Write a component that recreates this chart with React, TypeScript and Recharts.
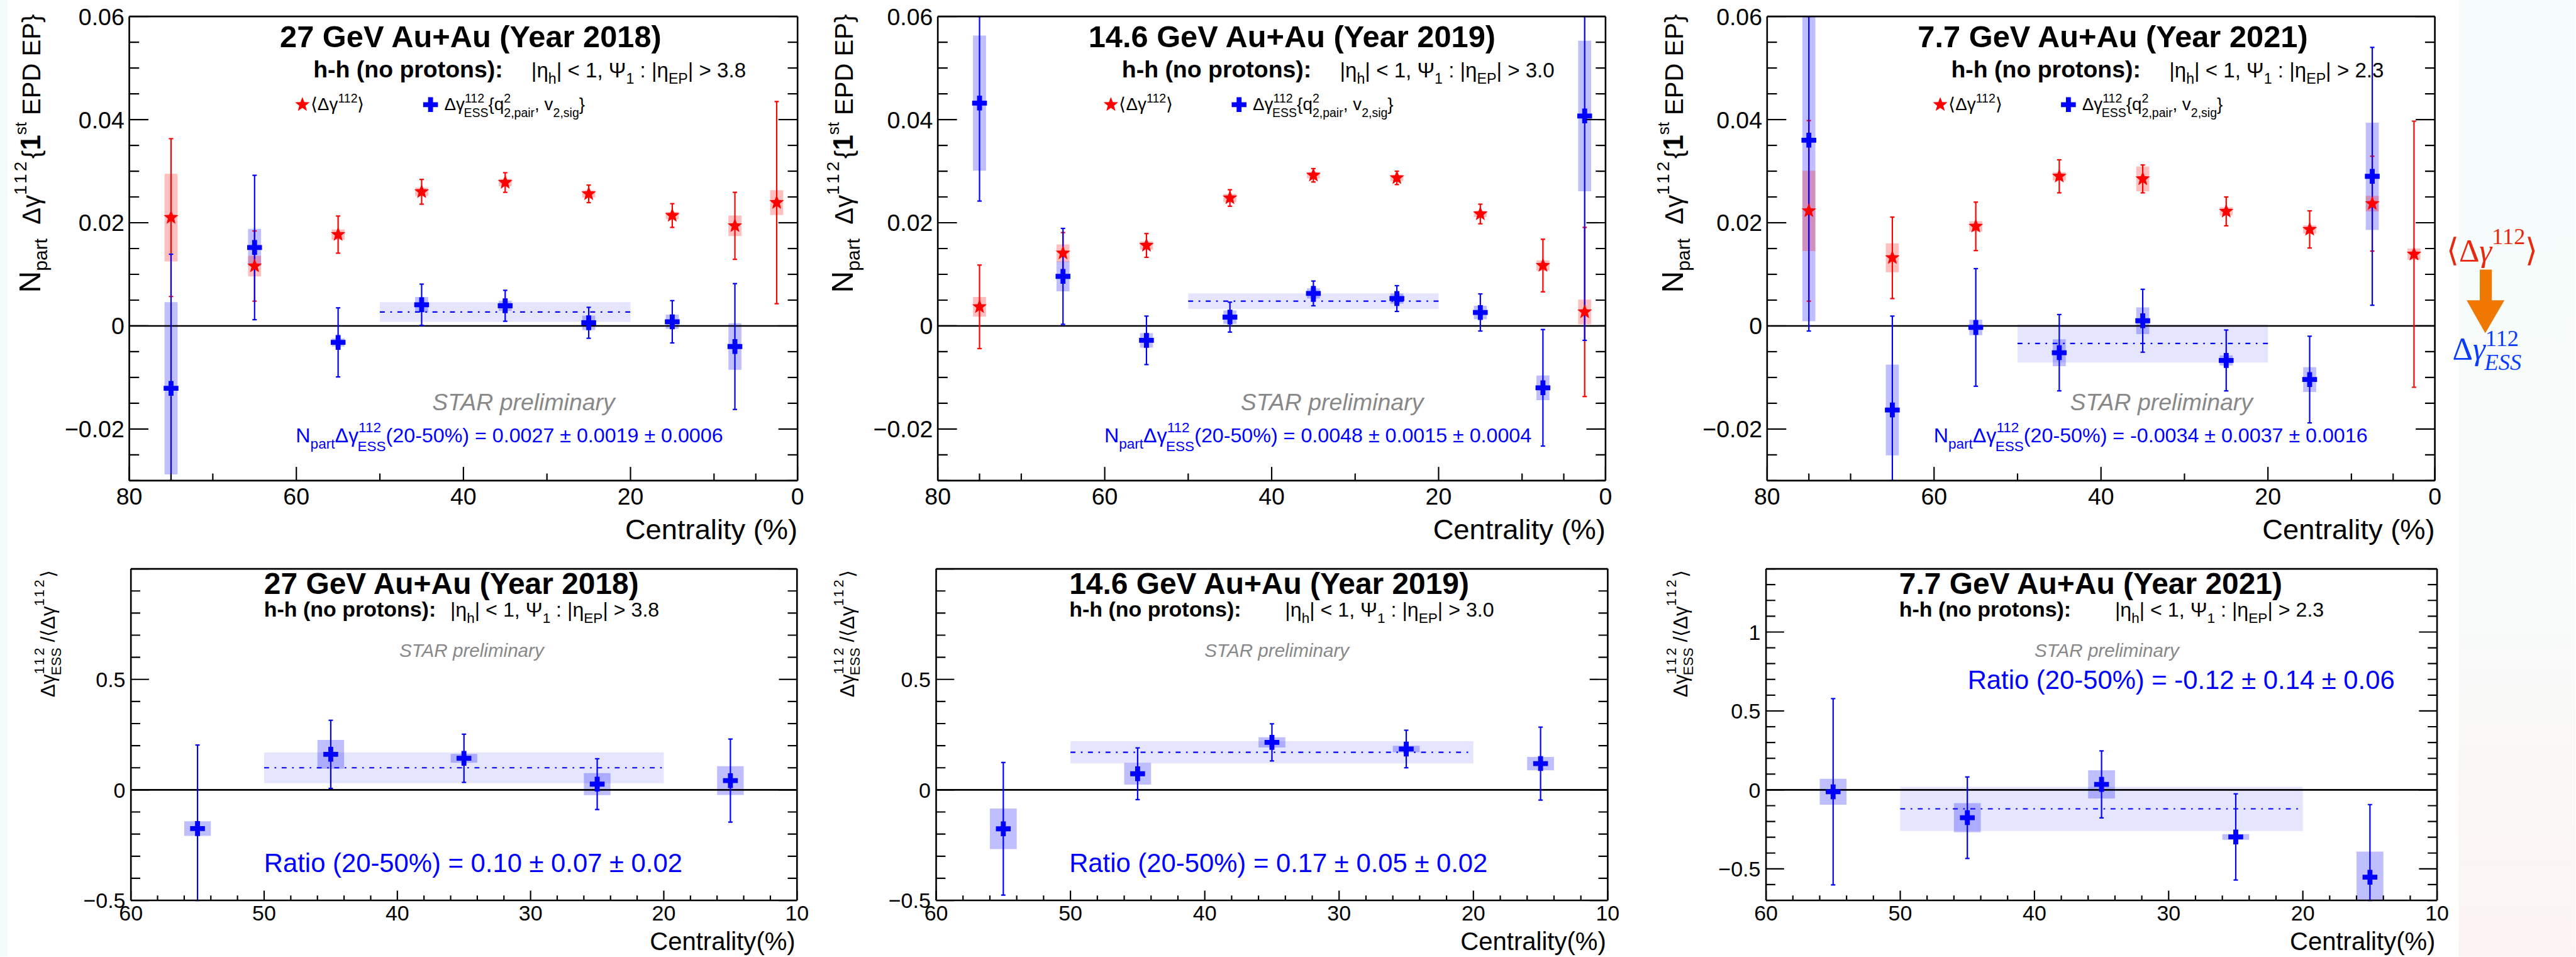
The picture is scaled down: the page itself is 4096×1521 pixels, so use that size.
import React from 'react';
import {
  ComposedChart,
  Scatter,
  ErrorBar,
  XAxis,
  YAxis,
  ReferenceArea,
  ReferenceLine,
} from 'recharts';

// everything is laid out in the reference's own pixels and scaled down once
const S = 0.871;
const W0 = 4702;
const H0 = 1746;
const FONT = '"Liberation Sans", Arial, Helvetica, sans-serif';
const SERIF = '"Liberation Serif", "Times New Roman", serif';
const RED = '#ff0000';
const BLUE = '#0000ff';

// ---- data ----
const centTop = [75, 65, 55, 45, 35, 25, 15, 7.5, 2.5];
const centRatio = [55, 45, 35, 25, 15];

// 27 GeV (2018)
const inc27 = [0.021, 0.0116, 0.0177, 0.026, 0.0278, 0.0256, 0.0214, 0.0194, 0.0239];
const incStat27 = [0.0153, 0.0068, 0.0036, 0.0024, 0.0019, 0.0017, 0.0023, 0.0065, 0.0196];
const incSys27 = [0.0085, 0.002, 0.001, 0.0008, 0.0007, 0.0007, 0.0007, 0.002, 0.0024];
const ess27 = [-0.0121, 0.0152, -0.0032, 0.0041, 0.0039, 0.0006, 0.0008, -0.004];
const essStat27 = [0.026, 0.014, 0.0067, 0.004, 0.003, 0.003, 0.0041, 0.0122];
const essSys27 = [0.0167, 0.0036, 0.0008, 0.0015, 0.001, 0.0014, 0.0014, 0.0045];

// 14.6 GeV (2019)
const inc146 = [0.0037, 0.0141, 0.0156, 0.0248, 0.0292, 0.0287, 0.0217, 0.0117, 0.0027];
const incStat146 = [0.0081, 0.004, 0.0023, 0.0016, 0.0013, 0.0013, 0.0019, 0.0051, 0.0164];
const incSys146 = [0.0019, 0.0017, 0.0008, 0.0008, 0.0006, 0.0006, 0.0006, 0.001, 0.0024];
const ess146 = [0.0432, 0.0096, -0.0028, 0.0017, 0.0063, 0.0053, 0.0026, -0.012, 0.0407];
const essStat146 = [0.019, 0.0093, 0.0047, 0.0029, 0.0024, 0.0025, 0.0036, 0.0113, 0.0435];
const essSys146 = [0.0131, 0.0029, 0.0014, 0.0013, 0.001, 0.001, 0.0013, 0.0024, 0.0146];

// 7.7 GeV (2021)
const inc77 = [0.0223, 0.0132, 0.0193, 0.029, 0.0285, 0.0222, 0.0187, 0.0237, 0.0139];
const incStat77 = [0.0175, 0.0079, 0.0047, 0.0032, 0.0027, 0.0028, 0.0036, 0.0092, 0.0258];
const incSys77 = [0.0078, 0.0028, 0.001, 0.0008, 0.0024, 0.0008, 0.0008, 0.0015, 0.0011];
const ess77 = [0.036, -0.0163, -0.0003, -0.0052, 0.001, -0.0067, -0.0104, 0.029];
const essStat77 = [0.037, 0.0182, 0.0114, 0.0074, 0.0061, 0.0059, 0.0084, 0.025];
const essSys77 = [0.0351, 0.0088, 0.0015, 0.0026, 0.0026, 0.001, 0.0024, 0.0104];

// ratio ESS / inclusive
const ratio27 = [-0.175, 0.161, 0.143, 0.026, 0.042];
const ratioStat27 = [0.378, 0.154, 0.109, 0.115, 0.188];
const ratioSys27 = [0.033, 0.065, 0.02, 0.05, 0.065];
const ratio146 = [-0.176, 0.073, 0.215, 0.185, 0.119];
const ratioStat146 = [0.3, 0.117, 0.084, 0.085, 0.165];
const ratioSys146 = [0.092, 0.049, 0.023, 0.015, 0.03];
const ratio77 = [-0.012, -0.176, 0.035, -0.298, -0.553];
const ratioStat77 = [0.59, 0.258, 0.212, 0.273, 0.46];
const ratioSys77 = [0.082, 0.092, 0.089, 0.018, 0.162];

// 20-50% averages: value, stat
const bandTop = [0.0027, 0.0048, -0.0034];
const bandTopErr = [0.0019, 0.0015, 0.0037];
const bandRatio = [0.1, 0.17, -0.12];
const bandRatioErr = [0.07, 0.05, 0.14];

const energies = ['27 GeV Au+Au (Year 2018)', '14.6 GeV Au+Au (Year 2019)', '7.7 GeV Au+Au (Year 2021)'];
const etaCuts = ['3.8', '3.0', '2.3'];
const nessText = ['0.0027 ± 0.0019 ± 0.0006', '0.0048 ± 0.0015 ± 0.0004', '-0.0034 ± 0.0037 ± 0.0016'];
const ratioText = ['0.10 ± 0.07 ± 0.02', '0.17 ± 0.05 ± 0.02', '-0.12 ± 0.14 ± 0.06'];

// tick values
const topXMajor = [80, 60, 40, 20, 0];
const topXMinor = [75, 70, 50, 30, 10, 5];
const topYMajor = [-0.02, 0, 0.02, 0.04, 0.06];
const botXMajor = [60, 50, 40, 30, 20, 10];
const botYMajor = [-0.5, 0, 0.5, 1];

type Row = { x: number; y: number; err: number; sys: number };
const rows = (c: number[], v: number[], e: number[], s: number[]): Row[] =>
  v.map((y, i) => ({ x: c[i], y, err: e[i], sys: s[i] }));

const minorTicks = (from: number, to: number, step: number, major: number[]) => {
  const out: number[] = [];
  const n = Math.round((to - from) / step);
  for (let i = 0; i <= n; i++) {
    const v = +(from + i * step).toFixed(4);
    if (!major.some((m) => Math.abs(m - v) < step / 10)) out.push(v);
  }
  return out;
};

// ---- markers ----
const starPath = (cx: number, cy: number, R = 14, r = 6) => {
  let d = '';
  for (let i = 0; i < 10; i++) {
    const a = ((-90 + i * 36) * Math.PI) / 180;
    const rr = i % 2 === 0 ? R : r;
    d += (i === 0 ? 'M' : 'L') + (cx + rr * Math.cos(a)).toFixed(2) + ',' + (cy + rr * Math.sin(a)).toFixed(2);
  }
  return d + 'Z';
};
const crossPath = (cx: number, cy: number, H = 13.5, T = 4.5) =>
  `M${cx - T},${cy - H}h${2 * T}v${H - T}h${H - T}v${2 * T}h${-(H - T)}v${H - T}h${-2 * T}v${-(H - T)}h${-(H - T)}v${-2 * T}h${H - T}Z`;

// ---- rich text with sub/superscripts ----
interface Seg { t: string; up?: number; k?: number; dx?: number; it?: boolean; b?: boolean; ls?: number }
const Rich = ({ x, y, fs, segs, anchor = 'start', fill = '#000', family = FONT, bold = false, italic = false }: any) => {
  let cur = 0;
  return (
    <text x={x} y={y} fontSize={fs} fill={fill} fontFamily={family} textAnchor={anchor}
      fontWeight={bold ? 'bold' : 'normal'} fontStyle={italic ? 'italic' : 'normal'} style={{ whiteSpace: 'pre' }}>
      {segs.map((s: Seg, i: number) => {
        const up = s.up ?? 0;
        const dy = (cur - up) * fs;
        cur = up;
        return (
          <tspan key={i} dy={dy} dx={s.dx ?? 0} fontSize={(s.k ?? 1) * fs}
            fontStyle={s.it ? 'italic' : undefined} fontWeight={s.b ? 'bold' : undefined} letterSpacing={s.ls}>
            {s.t}
          </tspan>
        );
      })}
    </text>
  );
};

const fmt = (v: number) => (v === 0 ? '0' : v < 0 ? '\u2212' + String(-v) : String(v));

interface PanelProps {
  L: number; R: number; T: number; B: number; boxTop: number; xh: number;
  xDomain: [number, number]; xMajor: number[]; xMinor: number[]; xLen: [number, number];
  yDomain: [number, number]; yMajor: number[]; yLabelled: number[]; yMinor: number[]; yLen: [number, number];
  fs: number; xOff: number; yOff: number; half: number;
  red?: Row[]; blue: Row[]; band: [number, number];
}

function Panel(p: PanelProps) {
  const LW = 160;
  const RW = 40;
  const top = p.T - p.boxTop;
  const w = LW + (p.R - p.L) + RW;
  const h = top + (p.B - p.T) + p.xh;
  const axisLine = { stroke: '#000', strokeWidth: 3 };
  const xt = [...p.xMajor, ...p.xMinor];
  const yt = [...p.yMajor, ...p.yMinor];
  const [y0, y1] = p.yDomain;
  // error bars stop at the frame, like the clipped ones in the reference
  const withBars = (rs: Row[]) =>
    rs.map((d) => ({ ...d, eb: [Math.min(d.err, d.y - y0), Math.min(d.err, y1 - d.y)] }));

  const xTick = (t: any) => {
    const v = t.payload.value;
    const maj = p.xMajor.includes(v);
    return (
      <g>
        <line x1={t.x} x2={t.x} y1={t.y} y2={t.y - (maj ? p.xLen[0] : p.xLen[1])} stroke="#000" strokeWidth={2.5} />
        {maj && (
          <text x={t.x} y={t.y + p.xOff} textAnchor="middle" fontSize={p.fs} fontFamily={FONT} fill="#000">{fmt(v)}</text>
        )}
      </g>
    );
  };
  const yTickL = (t: any) => {
    const v = t.payload.value;
    const maj = p.yMajor.includes(v);
    return (
      <g>
        <line x1={t.x} x2={t.x + (maj ? p.yLen[0] : p.yLen[1])} y1={t.y} y2={t.y} stroke="#000" strokeWidth={2.5} />
        {p.yLabelled.includes(v) && (
          <text x={t.x - p.yOff} y={t.y + p.fs * 0.36} textAnchor="end" fontSize={p.fs} fontFamily={FONT} fill="#000">{fmt(v)}</text>
        )}
      </g>
    );
  };
  const yTickR = (t: any) => {
    const v = t.payload.value;
    const maj = p.yMajor.includes(v);
    return <line x1={t.x} x2={t.x - (maj ? p.yLen[0] : p.yLen[1])} y1={t.y} y2={t.y} stroke="#000" strokeWidth={2.5} />;
  };

  const [bv, be] = p.band;
  return (
    <div style={{ position: 'absolute', left: p.L - LW, top: p.boxTop }}>
      <ComposedChart width={w} height={h} margin={{ top: top - 1, right: 0, bottom: 0, left: 0 }}>
        <XAxis dataKey="x" type="number" domain={p.xDomain} reversed allowDataOverflow ticks={xt} interval={0}
          height={p.xh} tickSize={0} tickMargin={0} tickLine={false} axisLine={axisLine} tick={xTick} />
        <XAxis xAxisId="top" orientation="top" type="number" domain={p.xDomain} reversed allowDataOverflow
          height={1} tick={false} tickLine={false} axisLine={axisLine} />
        <YAxis dataKey="y" type="number" domain={p.yDomain} allowDataOverflow ticks={yt} interval={0}
          width={LW} tickSize={0} tickMargin={0} tickLine={false} axisLine={axisLine} tick={yTickL} />
        <YAxis yAxisId="r" orientation="right" type="number" domain={p.yDomain} allowDataOverflow ticks={yt} interval={0}
          width={RW} tickSize={0} tickMargin={0} tickLine={false} axisLine={axisLine} tick={yTickR} />

        <ReferenceArea x1={50} x2={20} y1={bv - be} y2={bv + be} fill={BLUE} fillOpacity={0.1} stroke="none" ifOverflow="hidden" />
        {p.blue.map((d, i) => (
          <ReferenceArea key={'bs' + i} x1={d.x - p.half} x2={d.x + p.half} y1={d.y - d.sys} y2={d.y + d.sys}
            fill={BLUE} fillOpacity={0.25} stroke="none" ifOverflow="hidden" />
        ))}
        {(p.red || []).map((d, i) => (
          <ReferenceArea key={'rs' + i} x1={d.x - p.half} x2={d.x + p.half} y1={d.y - d.sys} y2={d.y + d.sys}
            fill={RED} fillOpacity={0.25} stroke="none" ifOverflow="hidden" />
        ))}
        <ReferenceLine y={0} stroke="#000" strokeWidth={3} ifOverflow="hidden" />
        <ReferenceLine segment={[{ x: 50, y: bv }, { x: 20, y: bv }]} stroke={BLUE} strokeWidth={2.5}
          strokeDasharray="9 10 3 10" ifOverflow="hidden" />

        {p.red && (
          <Scatter data={withBars(p.red)} dataKey="y" fill={RED} isAnimationActive={false}
            shape={(s: any) => <path d={starPath(s.cx, s.cy)} fill={RED} />}>
            <ErrorBar dataKey="eb" direction="y" width={4} stroke={RED} strokeWidth={2.5} isAnimationActive={false} />
          </Scatter>
        )}
        <Scatter data={withBars(p.blue)} dataKey="y" fill={BLUE} isAnimationActive={false}
          shape={(s: any) => <path d={crossPath(s.cx, s.cy)} fill={BLUE} />}>
          <ErrorBar dataKey="eb" direction="y" width={4} stroke={BLUE} strokeWidth={2.5} isAnimationActive={false} />
        </Scatter>
      </ComposedChart>
    </div>
  );
}

// ---- layout (reference pixels) ----
const topLayout = [
  { L: 236, R: 1456, ylab: 73 },
  { L: 1712, R: 2931, ylab: 1557 },
  { L: 3226, R: 4445, ylab: 3072 },
];
const botLayout = [
  { L: 239, R: 1455, ylab: 100, sub2: 583, rx: 243, ry: 1591 },
  { L: 1709, R: 2935, ylab: 1559, sub2: 637, rx: 243, ry: 1591 },
  { L: 3224, R: 4449, ylab: 3080, sub2: 637, rx: 368, ry: 1257 },
];

const incData = [
  rows(centTop, inc27, incStat27, incSys27),
  rows(centTop, inc146, incStat146, incSys146),
  rows(centTop, inc77, incStat77, incSys77),
];
const essData = [
  rows(centTop, ess27, essStat27, essSys27),
  rows(centTop, ess146, essStat146, essSys146),
  rows(centTop, ess77, essStat77, essSys77),
];
const ratioData = [
  rows(centRatio, ratio27, ratioStat27, ratioSys27),
  rows(centRatio, ratio146, ratioStat146, ratioSys146),
  rows(centRatio, ratio77, ratioStat77, ratioSys77),
];

const etaSegs = (cut: string): Seg[] => [
  { t: '|η' }, { t: 'h', up: -0.3, k: 0.7 }, { t: '| < 1, Ψ' }, { t: '1', up: -0.3, k: 0.7 },
  { t: ' : |η' }, { t: 'EP', up: -0.3, k: 0.7 }, { t: '| > ' + cut },
];

export default function App() {
  const topYMinor = minorTicks(-0.03, 0.06, 0.005, topYMajor);
  const botXMinor = minorTicks(10, 60, 2, botXMajor);
  const botYMinorA = minorTicks(-0.5, 1, 0.1, botYMajor);
  const botYMinorB = minorTicks(-0.7, 1.4, 0.1, botYMajor);

  return (
    <div style={{ position: 'absolute', left: 0, top: 0, width: 4096, height: 1521, overflow: 'hidden', background: '#fff' }}>
      <div style={{ position: 'absolute', left: 0, top: 0, width: W0, height: H0, transform: `scale(${S})`, transformOrigin: '0 0', fontFamily: FONT }}>
        <svg width={W0} height={H0} style={{ position: 'absolute', left: 0, top: 0 }}>
          <defs>
            <linearGradient id="edge" x1="0" y1="0" x2="0" y2="1">
              <stop offset="0" stopColor="#f6fcfc" />
              <stop offset="0.6" stopColor="#f8fcfb" />
              <stop offset="1" stopColor="#fcf4f2" />
            </linearGradient>
          </defs>
          <rect x={4488} y={0} width={214} height={H0} fill="url(#edge)" />
          <rect x={0} y={0} width={14} height={H0} fill="#f4fbfb" />
        </svg>

        {topLayout.map((l, i) => (
          <Panel key={'t' + i} L={l.L} R={l.R} T={30} B={877} boxTop={0} xh={60}
            xDomain={[0, 80]} xMajor={topXMajor} xMinor={topXMinor} xLen={[25, 13]}
            yDomain={[-0.03, 0.06]} yMajor={topYMajor} yLabelled={topYMajor} yMinor={topYMinor} yLen={[35, 18]}
            fs={43} xOff={44} yOff={9} half={0.78}
            red={incData[i]} blue={essData[i]} band={[bandTop[i], bandTopErr[i]]} />
        ))}
        {botLayout.map((l, i) => (
          <Panel key={'b' + i} L={l.L} R={l.R} T={1038} B={1643} boxTop={990} xh={50}
            xDomain={[10, 60]} xMajor={botXMajor} xMinor={botXMinor} xLen={[18, 9]}
            yDomain={i === 2 ? [-0.7, 1.4] : [-0.5, 1]} yMajor={botYMajor}
            yLabelled={i === 2 ? botYMajor : [-0.5, 0, 0.5]} yMinor={i === 2 ? botYMinorB : botYMinorA} yLen={[33, 17]}
            fs={39} xOff={37} yOff={10} half={1}
            blue={ratioData[i]} band={[bandRatio[i], bandRatioErr[i]]} />
        ))}

        <svg width={W0} height={H0} style={{ position: 'absolute', left: 0, top: 0, pointerEvents: 'none' }} fontFamily={FONT}>
          {topLayout.map((l, i) => (
            <g key={'tt' + i}>
              <text x={l.L + 275} y={86} fontSize={56} fontWeight="bold">{energies[i]}</text>
              <text x={l.L + 336} y={141} fontSize={43} fontWeight="bold">h-h (no protons):</text>
              <Rich x={l.L + 734} y={141} fs={38} segs={etaSegs(etaCuts[i])} />
              <path d={starPath(l.L + 316, 191)} fill={RED} />
              <Rich x={l.L + 331} y={201} fs={32} segs={[{ t: '⟨Δγ' }, { t: '112', up: 0.45, k: 0.7 }, { t: '⟩' }]} />
              <path d={crossPath(l.L + 550, 191)} fill={BLUE} />
              <Rich x={l.L + 575} y={201} fs={32} segs={[
                { t: 'Δγ' }, { t: '112', up: 0.45, k: 0.7 }, { t: 'ESS', up: -0.4, k: 0.7, dx: -3 * 0.556 * 0.7 * 32 },
                { t: '{q' }, { t: '2', up: 0.45, k: 0.7 }, { t: '2,pair', up: -0.4, k: 0.7, dx: -0.556 * 0.7 * 32 },
                { t: ', v' }, { t: '2,sig', up: -0.4, k: 0.7 }, { t: '}' },
              ]} />
              <text x={l.L + 553} y={748} fontSize={43} fontStyle="italic" fill="#888888">STAR preliminary</text>
              <Rich x={l.L + 304} y={807} fs={37} fill={BLUE} segs={[
                { t: 'N' }, { t: 'part', up: -0.3, k: 0.7 }, { t: 'Δγ' }, { t: '112', up: 0.5, k: 0.7 },
                { t: 'ESS', up: -0.45, k: 0.7, dx: -3 * 0.556 * 0.7 * 37 }, { t: '(20-50%) = ' + nessText[i] },
              ]} />
              <text x={l.R} y={984} fontSize={52} textAnchor="end">Centrality (%)</text>
              <g transform={`translate(${l.ylab},26) rotate(-90)`}>
                <Rich x={0} y={0} fs={46} anchor="end" segs={[
                  { t: 'N', k: 1.2 }, { t: 'part', up: -0.28, k: 0.75 }, { t: '  Δγ' },
                  { t: '112', up: 0.55, k: 0.7, ls: 5 }, { t: '{' }, { t: '1', b: true, k: 1.1 },
                  { t: 'st', up: 0.55, k: 0.65 }, { t: ' EPD EP}' },
                ]} />
              </g>
            </g>
          ))}

          {botLayout.map((l, i) => (
            <g key={'bt' + i}>
              <text x={l.L + 243} y={1084} fontSize={55} fontWeight="bold">{energies[i]}</text>
              <text x={l.L + 243} y={1125} fontSize={39} fontWeight="bold">h-h (no protons):</text>
              <Rich x={l.L + l.sub2} y={1125} fs={37} segs={etaSegs(etaCuts[i])} />
              <text x={l.L + 490} y={1199} fontSize={34} fontStyle="italic" fill="#888888">STAR preliminary</text>
              <text x={l.L + l.rx} y={l.ry} fontSize={48} fill={BLUE}>{'Ratio (20-50%) = ' + ratioText[i]}</text>
              <text x={l.R - 3} y={1734} fontSize={46} textAnchor="end">Centrality(%)</text>
              <g transform={`translate(${l.ylab},1040) rotate(-90)`}>
                <Rich x={0} y={0} fs={36} anchor="end" segs={[
                  { t: 'Δγ' }, { t: '112', up: 0.55, k: 0.7, ls: 4 },
                  { t: 'ESS', up: -0.3, k: 0.7, dx: -(3 * 0.556 * 0.7 * 36 + 12) },
                  { t: ' /⟨Δγ' }, { t: '112', up: 0.55, k: 0.7, ls: 4 }, { t: '⟩' },
                ]} />
              </g>
            </g>
          ))}

          {/* inclusive -> ESS annotation */}
          <Rich x={4466} y={477} fs={58} family={SERIF} fill="#e8280f" segs={[
            { t: '⟨Δ' }, { t: 'γ', it: true }, { t: '112', up: 0.55, k: 0.72 }, { t: '⟩' },
          ]} />
          <path d="M4527,492H4549V548H4572L4537,608L4503,548H4527Z" fill="#f07800" />
          <Rich x={4477} y={655} fs={58} family={SERIF} fill="#0a3cff" segs={[
            { t: 'Δ' }, { t: 'γ', it: true }, { t: '112', up: 0.4, k: 0.72 },
            { t: 'ESS', up: -0.35, k: 0.72, it: true, dx: -3 * 0.5 * 0.72 * 58 },
          ]} />
        </svg>
      </div>
    </div>
  );
}
